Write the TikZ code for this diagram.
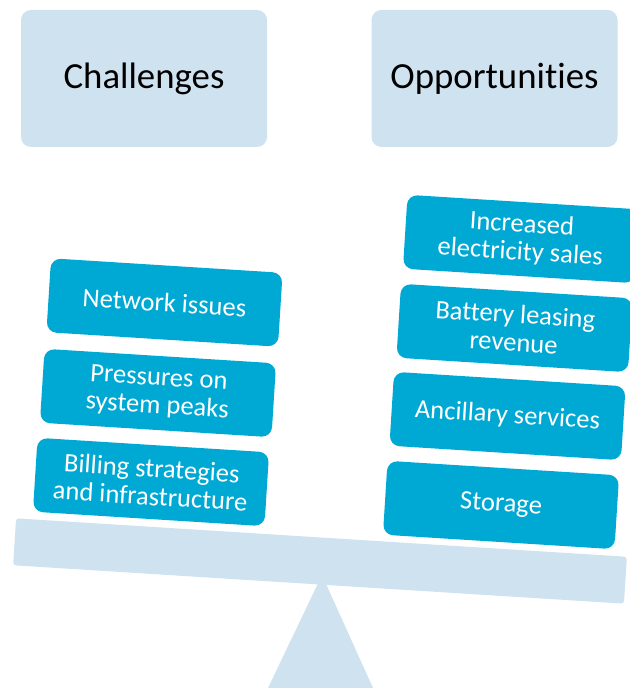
\documentclass[tikz,border=0pt]{standalone}
\usepackage{fontspec}
\setmainfont[Ligatures=NoCommon]{Carlito}
\usepackage{tikz}
\definecolor{paleblue}{RGB}{207,226,240}
\definecolor{cardblue}{RGB}{0,168,212}
\tikzstyle{header}=[rectangle, fill=paleblue, rounded corners=5pt,
	                    minimum width=123pt, minimum height=68.5pt,
	                    font=\fontsize{18.4}{22}\selectfont]
\tikzstyle{card}=[rectangle, fill=cardblue, rounded corners=5pt, rotate=-3.6,
	                  minimum width=116pt, minimum height=37pt, text=white,
	                  align=center, inner sep=2pt,
	                  font=\fontsize{13.3}{14}\selectfont]

\begin{document}
\begin{tikzpicture}[x=0.5pt, y=-0.5pt]
\useasboundingbox (0,0) rectangle (629,688);
\node [header] (challenges) at (144,78.5) {Challenges};
\node [header] (opportunities) at (494.5,78.5) {Opportunities};
% seesaw
\fill [paleblue] (322,575) -- (373,688) -- (268,688) -- cycle;
\node [rectangle, fill=paleblue, rounded corners=1.5pt, rotate=-3.6,
	minimum width=306pt, minimum height=23.5pt] (beam) at (320,561) {};
% left pan
\node [card] (network) at (164.5,302.5) {Network issues};
\node [card] (pressures) at (158,393) {Pressures on\\system peaks};
\node [card] (billing) at (151,482) {Billing strategies\\and infrastructure};
% right pan
\node [card] (sales) at (521,239) {Increased\\electricity sales};
\node [card] (leasing) at (514.5,328) {Battery leasing\\revenue};
\node [card] (ancillary) at (507.5,416) {Ancillary services};
\node [card] (storage) at (501,505) {Storage};
\end{tikzpicture}
\end{document}
